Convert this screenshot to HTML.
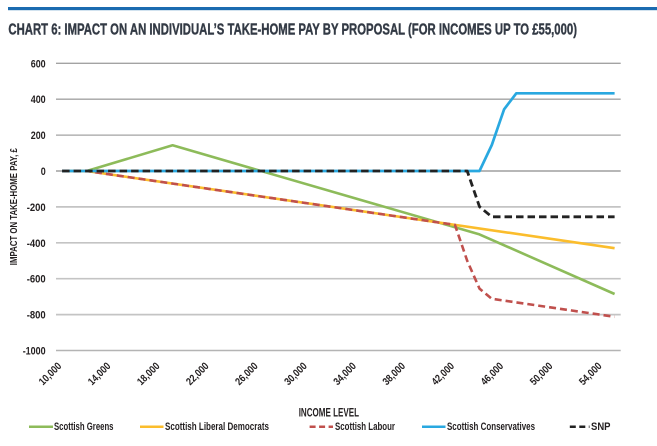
<!DOCTYPE html>
<html><head><meta charset="utf-8"><style>
html,body{margin:0;padding:0;background:#fff;}
svg{display:block;}
text{font-family:"Liberation Sans Narrow","Liberation Sans",sans-serif;font-weight:bold;fill:#231f20;}
</style></head><body>
<svg width="657" height="446" viewBox="0 0 657 446" xmlns="http://www.w3.org/2000/svg">
<rect x="0" y="0" width="657" height="446" fill="#fff"/>
<rect x="8" y="7" width="649" height="3.2" fill="#1b6bb0"/>
<text x="8.4" y="34.5" font-size="15.5" style="fill:#333a45;stroke:#333a45;stroke-width:0.4" textLength="568.6" lengthAdjust="spacingAndGlyphs">CHART 6:  IMPACT ON AN INDIVIDUAL’S TAKE-HOME PAY BY PROPOSAL (FOR INCOMES UP TO £55,000)</text>

<!-- gridlines -->
<g fill="none">
<line x1="56" y1="63.3" x2="620.7" y2="63.3" stroke="#a3a3a3" stroke-width="1.3"/>
<line x1="56" y1="99.2" x2="620.7" y2="99.2" stroke="#a3a3a3" stroke-width="1.3"/>
<line x1="56" y1="135.1" x2="620.7" y2="135.1" stroke="#a3a3a3" stroke-width="1.3"/>
<line x1="56" y1="171" x2="620.7" y2="171" stroke="#8c8c8c" stroke-width="1.3"/>
<line x1="56" y1="206.9" x2="620.7" y2="206.9" stroke="#c4c4c4" stroke-width="1.7"/>
<line x1="56" y1="242.8" x2="620.7" y2="242.8" stroke="#c4c4c4" stroke-width="1.7"/>
<line x1="56" y1="278.7" x2="620.7" y2="278.7" stroke="#c4c4c4" stroke-width="1.7"/>
<line x1="56" y1="314.6" x2="620.7" y2="314.6" stroke="#c4c4c4" stroke-width="1.7"/>
<line x1="56" y1="350.5" x2="620.7" y2="350.5" stroke="#b4b4b4" stroke-width="1.5"/>
</g>

<!-- y tick labels -->
<g font-size="11" text-anchor="end">
<text x="45.7" y="67.3" textLength="15" lengthAdjust="spacingAndGlyphs">600</text>
<text x="45.7" y="103.2" textLength="15" lengthAdjust="spacingAndGlyphs">400</text>
<text x="45.7" y="139.1" textLength="15" lengthAdjust="spacingAndGlyphs">200</text>
<text x="45.7" y="175" textLength="5" lengthAdjust="spacingAndGlyphs">0</text>
<text x="45.7" y="210.9" textLength="19" lengthAdjust="spacingAndGlyphs">-200</text>
<text x="45.7" y="246.8" textLength="19" lengthAdjust="spacingAndGlyphs">-400</text>
<text x="45.7" y="282.7" textLength="19" lengthAdjust="spacingAndGlyphs">-600</text>
<text x="45.7" y="318.6" textLength="19" lengthAdjust="spacingAndGlyphs">-800</text>
<text x="45.7" y="354.5" textLength="23" lengthAdjust="spacingAndGlyphs">-1000</text>
</g>

<!-- y axis title -->
<text transform="translate(17.2,206.7) rotate(-90)" font-size="10" text-anchor="middle" textLength="117" lengthAdjust="spacingAndGlyphs">IMPACT ON TAKE-HOME PAY, £</text>

<!-- x tick labels -->
<g font-size="10.5" text-anchor="end">
<text transform="translate(62.1,366.7) rotate(-45)" textLength="27" lengthAdjust="spacingAndGlyphs">10,000</text>
<text transform="translate(111.2,366.7) rotate(-45)" textLength="27" lengthAdjust="spacingAndGlyphs">14,000</text>
<text transform="translate(160.3,366.7) rotate(-45)" textLength="27" lengthAdjust="spacingAndGlyphs">18,000</text>
<text transform="translate(209.4,366.7) rotate(-45)" textLength="27" lengthAdjust="spacingAndGlyphs">22,000</text>
<text transform="translate(258.5,366.7) rotate(-45)" textLength="27" lengthAdjust="spacingAndGlyphs">26,000</text>
<text transform="translate(307.6,366.7) rotate(-45)" textLength="27" lengthAdjust="spacingAndGlyphs">30,000</text>
<text transform="translate(356.7,366.7) rotate(-45)" textLength="27" lengthAdjust="spacingAndGlyphs">34,000</text>
<text transform="translate(405.8,366.7) rotate(-45)" textLength="27" lengthAdjust="spacingAndGlyphs">38,000</text>
<text transform="translate(454.9,366.7) rotate(-45)" textLength="27" lengthAdjust="spacingAndGlyphs">42,000</text>
<text transform="translate(504.0,366.7) rotate(-45)" textLength="27" lengthAdjust="spacingAndGlyphs">46,000</text>
<text transform="translate(553.2,366.7) rotate(-45)" textLength="27" lengthAdjust="spacingAndGlyphs">50,000</text>
<text transform="translate(602.3,366.7) rotate(-45)" textLength="27" lengthAdjust="spacingAndGlyphs">54,000</text>
</g>

<text x="298.7" y="416.5" font-size="12" textLength="60.3" lengthAdjust="spacingAndGlyphs">INCOME LEVEL</text>

<!-- series -->
<g fill="none" stroke-linejoin="round">
<polyline stroke="#8dbb5a" stroke-width="2.6" points="62.1,171 86.7,171 172.6,145.3 479.5,234.4 614.6,294.0"/>
<polyline stroke="#fbbd2c" stroke-width="2.6" points="62.1,171 86.7,171 614.6,248.2"/>
<polyline stroke="#c0504d" stroke-width="2.6" stroke-dasharray="7,4" points="62.1,171 86.7,171 454.97,224.9 467.2,260.75 479.5,288.6 491.8,298.8 614.6,316.8"/>
<polyline stroke="#29a8e0" stroke-width="2.7" points="62.1,171 479.5,171 491.8,145.0 504.1,109.3 516.3,93.3 614.6,93.3"/>
<polyline stroke="#222222" stroke-width="2.8" stroke-dasharray="7.5,4" points="62.1,171 467.2,171 479.5,206.7 491.8,216.8 614.6,216.8"/>
</g>

<!-- legend -->
<g fill="none" stroke-width="2.5">
<line x1="29" y1="426.7" x2="53" y2="426.7" stroke="#8dbb5a"/>
<line x1="140" y1="426.7" x2="163.5" y2="426.7" stroke="#fbbd2c"/>
<line x1="309.6" y1="426.7" x2="333" y2="426.7" stroke="#c0504d" stroke-dasharray="6,3.5"/>
<line x1="422" y1="426.7" x2="445.5" y2="426.7" stroke="#29a8e0"/>
<line x1="569.8" y1="426.7" x2="589.5" y2="426.7" stroke="#222222" stroke-dasharray="6,3.5"/>
</g>
<g font-size="11">
<text x="54" y="430" textLength="59.5" lengthAdjust="spacingAndGlyphs">Scottish Greens</text>
<text x="165" y="430" textLength="104" lengthAdjust="spacingAndGlyphs">Scottish Liberal Democrats</text>
<text x="335" y="430" textLength="60" lengthAdjust="spacingAndGlyphs">Scottish Labour</text>
<text x="447" y="430" textLength="88" lengthAdjust="spacingAndGlyphs">Scottish Conservatives</text>
<text x="591" y="430" textLength="19.5" lengthAdjust="spacingAndGlyphs">SNP</text>
</g>
</svg>
</body></html>
